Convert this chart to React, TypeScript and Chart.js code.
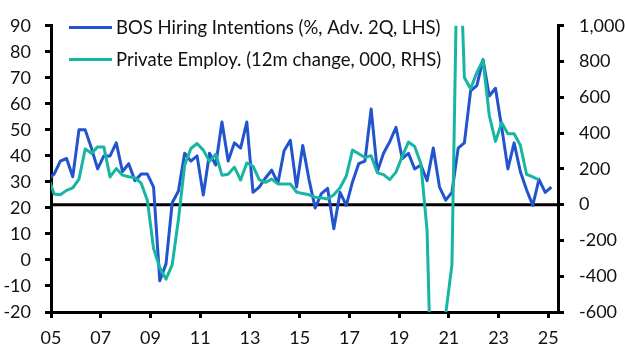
import React, { useEffect, useRef } from "react";
import { Chart, registerables } from "chart.js";

Chart.register(...registerables);

// ---- Data -------------------------------------------------------------
// Quarterly observations, 2004Q4 .. 2025Q1 (plotted at mid-quarter)
const firstQuarter = { year: 2004, q: 4 };
const lastQuarter = { year: 2025, q: 1 };

// BOS Hiring Intentions (%, advanced 2 quarters) — left axis
const bosHiring = [
  31, 33, 38, 39, 32, 50, 50, 43, 35, 40, 40, 45, 34, 37, 30.5, 33, 33, 28, -8,
  -1.5, 22, 26.5, 41, 38, 40, 25, 41, 36.5, 53, 38, 45, 43, 53, 26, 28, 31.5,
  34.5, 29.5, 42, 46, 28, 44, 31, 20, 25.5, 27.5, 12, 26, 21, 30, 37, 38, 58,
  34, 41, 45.5, 51, 39, 41, 35, 36.5, 30.5, 43, 28, 23, 26, 43, 45, 65, 67, 77,
  63, 66, 51, 35, 45, 34, 27, 21, 31, 26, 28,
];

// Private employment (12m change, 000s) — right axis
const privateEmploy = [
  160, 60, 56, 80, 94, 143, 311, 287, 323, 323, 155, 202, 165, 156, 150, 120,
  25, -245, -353, -416, -335, -83, 220, 314, 342, 305, 242, 282, 165, 170, 210,
  138, 233, 215, 140, 125, 143, 116, 116, 116, 71, 62, 55, 42, 38, 32, 55, 95,
  160, 305, 285, 264, 274, 178, 168, 140, 182, 270, 350, 325, 230, -145, -1450,
  -1000, -610, -335, 1735, 711, 648, 738, 810, 500, 354, 458, 396, 396, 332,
  170, 155, 138,
];

const seriesLabels = [
  "BOS Hiring Intentions (%, Adv. 2Q, LHS)",
  "Private Employ. (12m change, 000, RHS)",
];

const xTickYears = [2005, 2007, 2009, 2011, 2013, 2015, 2017, 2019, 2021, 2023, 2025];
const xTickLabels = ["05", "07", "09", "11", "13", "15", "17", "19", "21", "23", "25"];

// ---- Helpers ----------------------------------------------------------
const quarterLabels: string[] = [];
for (let y = firstQuarter.year, q = firstQuarter.q; y < lastQuarter.year || (y === lastQuarter.year && q <= lastQuarter.q); ) {
  quarterLabels.push(`${y}Q${q}`);
  q++;
  if (q > 4) {
    q = 1;
    y++;
  }
}
const quarterPos = (label: string) => {
  const [y, q] = label.split("Q").map(Number);
  return y + (q - 1) / 4 + 0.125;
};
const toPoints = (vals: number[]) =>
  vals.map((v, i) => ({ x: quarterPos(quarterLabels[i]), y: v }));

const BLUE = "#2154CE";
const TEAL = "#17B5A2";
const TEXT = "#111111";
const FONT_FAMILY = "Lato, 'Noto Sans', sans-serif";

const zeroLinePlugin = {
  id: "zeroLine",
  beforeDatasetsDraw(chart: any) {
    const { ctx, chartArea } = chart;
    const y = chart.scales.yR.getPixelForValue(0);
    ctx.save();
    ctx.strokeStyle = "#000";
    ctx.lineWidth = 3;
    ctx.beginPath();
    ctx.moveTo(chartArea.left, y);
    ctx.lineTo(chartArea.right, y);
    ctx.stroke();
    ctx.restore();
  },
};

const legendPlugin = {
  id: "insideLegend",
  afterDatasetsDraw(chart: any) {
    const { ctx } = chart;
    const colors = [BLUE, TEAL];
    ctx.save();
    ctx.font = `18.5px ${FONT_FAMILY}`;
    ctx.textBaseline = "alphabetic";
    ctx.textAlign = "left";
    seriesLabels.forEach((label, i) => {
      const y = 27.5 + i * 32;
      ctx.strokeStyle = colors[i];
      ctx.lineWidth = 3;
      ctx.beginPath();
      ctx.moveTo(69, y);
      ctx.lineTo(112, y);
      ctx.stroke();
      ctx.fillStyle = TEXT;
      ctx.fillText(label, 116, y + 6.5);
    });
    ctx.restore();
  },
};

export default function App() {
  const ref = useRef<HTMLCanvasElement>(null);

  useEffect(() => {
    let chart: Chart | null = null;
    let cancelled = false;
    const make = () => {
      if (cancelled || !ref.current) return;
      const tickFont = { family: FONT_FAMILY, size: 18 };
      const axisGrid = {
        drawOnChartArea: false,
        drawTicks: true,
        tickLength: 6,
        color: "#000",
        lineWidth: 3,
      };
      const axisBorder = { display: true, color: "#000", width: 3 };
      chart = new Chart(ref.current, {
        type: "line",
        data: {
          datasets: [
            {
              label: seriesLabels[0],
              data: toPoints(bosHiring),
              yAxisID: "yL",
              borderColor: BLUE,
              backgroundColor: BLUE,
              borderWidth: 3,
              pointRadius: 0,
              tension: 0,
              borderJoinStyle: "round",
              order: 2,
            },
            {
              label: seriesLabels[1],
              data: toPoints(privateEmploy),
              yAxisID: "yR",
              borderColor: TEAL,
              backgroundColor: TEAL,
              borderWidth: 3,
              pointRadius: 0,
              tension: 0,
              borderJoinStyle: "round",
              order: 1,
            },
          ],
        },
        options: {
          responsive: false,
          animation: false,
          devicePixelRatio: 1,
          layout: { padding: { top: 16, left: 0, right: 0, bottom: 0 } },
          plugins: { legend: { display: false }, tooltip: { enabled: false } },
          scales: {
            x: {
              type: "linear",
              min: 2005,
              max: 2025.39,
              afterBuildTicks: (s: any) => {
                s.ticks = xTickYears.map((v) => ({ value: v }));
              },
              afterFit: (s: any) => {
                s.height = 43;
              },
              ticks: {
                autoSkip: false,
                maxRotation: 0,
                padding: 9,
                color: TEXT,
                font: tickFont,
                callback: (v: any) => {
                  const idx = xTickYears.indexOf(Number(v));
                  return idx >= 0 ? xTickLabels[idx] : "";
                },
              },
              grid: axisGrid,
              border: axisBorder,
            },
            yL: {
              type: "linear",
              position: "left",
              min: -20,
              max: 90,
              afterFit: (s: any) => {
                s.width = 51;
              },
              ticks: { stepSize: 10, padding: 14, color: TEXT, font: tickFont },
              grid: axisGrid,
              border: axisBorder,
            },
            yR: {
              type: "linear",
              position: "right",
              min: -600,
              max: 1000,
              afterFit: (s: any) => {
                s.width = 67;
              },
              ticks: { stepSize: 200, padding: 15, color: TEXT, font: tickFont },
              grid: axisGrid,
              border: axisBorder,
            },
          },
        },
        plugins: [zeroLinePlugin, legendPlugin],
      } as any);
    };
    const fontsReady = (document as any).fonts
      ? Promise.all([(document as any).fonts.load(`18px Lato`)])
      : Promise.resolve();
    fontsReady.then(make, make);
    return () => {
      cancelled = true;
      if (chart) chart.destroy();
    };
  }, []);

  return (
    <div
      style={{
        position: "fixed",
        left: 0,
        top: 0,
        width: 625,
        height: 355,
        background: "#fff",
      }}
    >
      <canvas ref={ref} width={625} height={355} style={{ display: "block", width: 625, height: 355 }} />
    </div>
  );
}
